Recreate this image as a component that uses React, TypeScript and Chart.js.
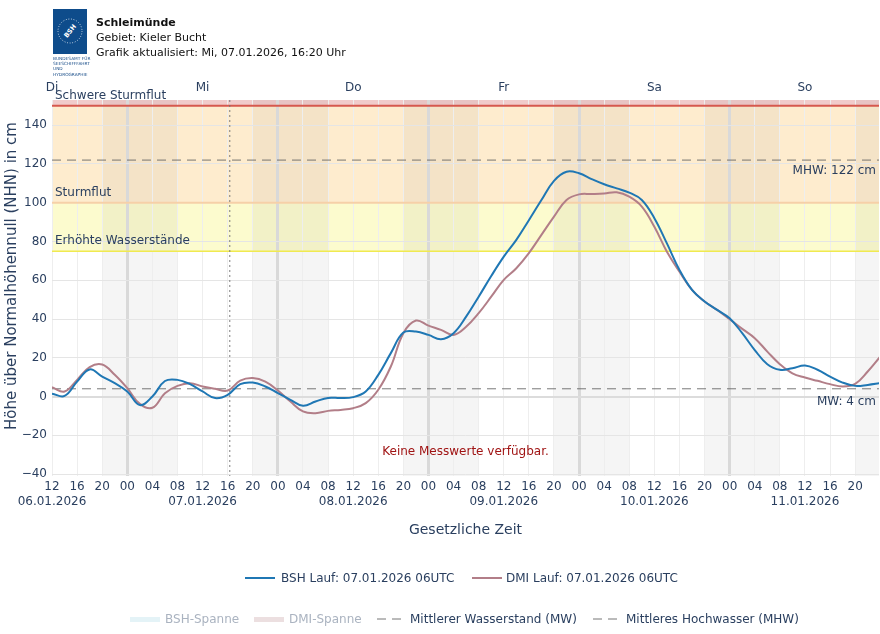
import React, { useEffect, useRef } from "react";
import { Chart, registerables } from "chart.js";

Chart.register(...registerables);

// hours since 06.01.2026 12:00 (local time)
const hours = [
  0, 2, 4, 6, 8, 10, 12, 14, 16, 18, 20, 22, 24, 26, 28, 30, 32, 34, 36, 38, 40, 42, 44, 46, 48,
  50, 52, 54, 56, 58, 60, 62, 64, 66, 68, 70, 72, 74, 76, 78, 80, 82, 84, 86, 88, 90, 92, 94, 96,
  98, 100, 102, 104, 106, 108, 110, 112, 114, 116, 118, 120, 122, 124, 126, 128, 130, 132,
];
const bshValues = [
  1.5, 0.3, 7.7, 14, 10.3, 6.9, 2.6, -4.4, 0, 8, 8.6, 6.4, 2.6, -0.8, 0.9, 6.4, 7.2, 5.2, 1.8, -1.7,
  -4.8, -2.6, -0.7, -0.8, -0.3, 2.6, 11.2, 22.4, 33, 33.5, 31.8, 29.6, 32.7, 41.2, 51.5, 62.2, 72.2,
  80.8, 91, 101.4, 111.3, 116, 115.2, 112.2, 109.5, 107.4, 105.2, 101.4, 92, 79, 65.3, 55, 49, 44.7,
  40.4, 32.7, 24, 16.7, 13.8, 14.6, 16, 13.8, 10.3, 7.2, 5.5, 6, 6.9,
];
const dmiValues = [
  4.8, 2.6, 8.6, 15.2, 16.5, 11.2, 4.3, -3.8, -5.8, 1.7, 5.5, 6.9, 5.2, 4, 3.1, 8.2, 9.5, 7.7, 3.1,
  -2.6, -7.7, -8.6, -7.4, -6.9, -6, -3.4, 3.5, 15.5, 32.7, 39.2, 36.6, 34.4, 31.8, 36, 43, 51.5, 60.2,
  66.2, 74, 83.4, 92.8, 101.4, 104.3, 104.5, 104.8, 105.4, 103.1, 98, 87.6, 74.7, 64.4, 55, 49, 44.7,
  39.9, 34.9, 30.1, 23.2, 16.7, 12, 9.8, 8.1, 6.4, 5.2, 6.5, 12.9, 20.6,
];
const yTicks = [-40, -20, 0, 20, 40, 60, 80, 100, 120, 140];
const xTickHours = [
  0, 4, 8, 12, 16, 20, 24, 28, 32, 36, 40, 44, 48, 52, 56, 60, 64, 68, 72, 76, 80, 84, 88, 92, 96,
  100, 104, 108, 112, 116, 120, 124, 128,
];
const dayLabels = ["Di", "Mi", "Do", "Fr", "Sa", "So"];
const dateLabels = ["06.01.2026", "07.01.2026", "08.01.2026", "09.01.2026", "10.01.2026", "11.01.2026"];
const nightStartHours = [8, 32, 56, 80, 104, 128];
const nightEndHours = [20, 44, 68, 92, 116, 140];
const nowHour = 28 + 20 / 60;
const mwLevel = 4;
const mhwLevel = 122;
const levelElevated = 75;
const levelStorm = 100;
const levelSevere = 150;
const noDataLevel = -28.5;

const FONT = '"DejaVu Sans", Verdana, sans-serif';
const TXT = "#2a3f5f";
const BSH_COLOR = "#1f77b4";
const DMI_COLOR = "#b27e88";
const Y_TITLE = "Höhe über Normalhöhennull (NHN) in cm";

const overlayPlugin = {
  id: "overlay",
  beforeDraw(chart: any) {
    const { ctx, chartArea: a, scales } = chart;
    const x = scales.x;
    const y = scales.y;
    ctx.save();
    ctx.beginPath();
    ctx.rect(a.left, a.top, a.right - a.left, a.bottom - a.top);
    ctx.clip();
    const band = (lo: number, hi: number, color: string) => {
      const yTop = hi === Infinity ? a.top : y.getPixelForValue(hi);
      const yBot = y.getPixelForValue(lo);
      ctx.fillStyle = color;
      ctx.fillRect(a.left, yTop, a.right - a.left, yBot - yTop);
    };
    band(levelElevated, levelStorm, "rgb(252,251,206)");
    band(levelStorm, levelSevere, "rgb(254,236,206)");
    band(levelSevere, Infinity, "rgb(241,203,203)");
    ctx.fillStyle = "rgba(120,120,120,0.075)";
    nightStartHours.forEach((s, i) => {
      const x0 = x.getPixelForValue(s);
      const x1 = x.getPixelForValue(nightEndHours[i]);
      ctx.fillRect(x0, a.top, x1 - x0, a.bottom - a.top);
    });
    ctx.restore();
  },
  beforeDatasetsDraw(chart: any) {
    const { ctx, chartArea: a, scales } = chart;
    const x = scales.x;
    const y = scales.y;
    ctx.save();
    ctx.beginPath();
    ctx.rect(a.left, a.top - 2, a.right - a.left, a.bottom - a.top + 2);
    ctx.clip();
    const hline = (v: number, color: string, w: number, dash: number[]) => {
      const py = y.getPixelForValue(v);
      ctx.beginPath();
      ctx.strokeStyle = color;
      ctx.lineWidth = w;
      ctx.setLineDash(dash);
      ctx.moveTo(a.left, py);
      ctx.lineTo(a.right, py);
      ctx.stroke();
    };
    hline(levelElevated, "rgb(240,234,80)", 1.5, []);
    hline(levelStorm, "rgb(246,208,168)", 2, []);
    hline(levelSevere, "rgb(214,88,78)", 2, []);
    hline(mhwLevel, "rgba(95,95,95,0.85)", 1, [9, 6]);
    hline(mwLevel, "rgba(95,95,95,0.85)", 1, [9, 6]);
    const nx = x.getPixelForValue(nowHour);
    ctx.beginPath();
    ctx.strokeStyle = "rgba(110,110,110,0.9)";
    ctx.lineWidth = 1;
    ctx.setLineDash([2, 3]);
    ctx.moveTo(nx, a.top);
    ctx.lineTo(nx, a.bottom);
    ctx.stroke();
    ctx.restore();
  },
  afterDatasetsDraw(chart: any) {
    const { ctx, chartArea: a, scales } = chart;
    const x = scales.x;
    const y = scales.y;
    ctx.save();
    ctx.font = `12px ${FONT}`;
    ctx.textBaseline = "middle";
    ctx.fillStyle = TXT;
    ctx.textAlign = "left";
    ctx.fillText("Schwere Sturmflut", a.left + 3, y.getPixelForValue(levelSevere) - 10);
    ctx.fillText("Sturmflut", a.left + 3, y.getPixelForValue(levelStorm) - 10);
    ctx.fillText("Erhöhte Wasserstände", a.left + 3, y.getPixelForValue(levelElevated) - 10);
    ctx.textAlign = "right";
    ctx.fillText(`MHW: ${mhwLevel} cm`, a.right - 3, y.getPixelForValue(mhwLevel) + 11);
    ctx.fillText(`MW: ${mwLevel} cm`, a.right - 3, y.getPixelForValue(mwLevel) + 13);
    ctx.textAlign = "center";
    dayLabels.forEach((d, i) => {
      ctx.fillText(d, x.getPixelForValue(i * 24), a.top - 12);
    });
    ctx.fillStyle = "rgb(160,20,20)";
    ctx.fillText("Keine Messwerte verfügbar.", (a.left + a.right) / 2, y.getPixelForValue(noDataLevel));
    // y axis title
    ctx.fillStyle = TXT;
    ctx.font = `15px ${FONT}`;
    ctx.translate(12, (a.top + a.bottom) / 2 - 12);
    ctx.rotate(-Math.PI / 2);
    ctx.fillText(Y_TITLE, 0, 0);
    ctx.restore();
  },
};

const legendRow1 = [
  { label: "BSH Lauf: 07.01.2026 06UTC", color: BSH_COLOR, lineLeft: 245, textLeft: 281 },
  { label: "DMI Lauf: 07.01.2026 06UTC", color: DMI_COLOR, lineLeft: 472, textLeft: 506 },
];

export default function App() {
  const ref = useRef<HTMLCanvasElement>(null);
  useEffect(() => {
    const bshData = hours.map((h, i) => ({ x: h, y: bshValues[i] }));
    const dmiData = hours.map((h, i) => ({ x: h, y: dmiValues[i] }));
    const chart = new Chart(ref.current as HTMLCanvasElement, {
      type: "line",
      data: {
        datasets: [
          {
            label: "BSH Lauf: 07.01.2026 06UTC",
            data: bshData,
            borderColor: BSH_COLOR,
            borderWidth: 2,
            pointRadius: 0,
            tension: 0.4,
            fill: false,
          },
          {
            label: "DMI Lauf: 07.01.2026 06UTC",
            data: dmiData,
            borderColor: DMI_COLOR,
            borderWidth: 2,
            pointRadius: 0,
            tension: 0.4,
            fill: false,
          },
        ],
      },
      options: {
        animation: false,
        responsive: false,
        maintainAspectRatio: false,
        layout: { padding: { left: 0, right: 1, top: 100, bottom: 94 } },
        plugins: { legend: { display: false }, tooltip: { enabled: false } },
        scales: {
          x: {
            type: "linear",
            min: 0,
            max: 131.8,
            border: { display: false },
            afterBuildTicks: (s: any) => {
              s.ticks = xTickHours.map((v) => ({ value: v }));
            },
            afterFit: (s: any) => {
              s.height = 64;
            },
            grid: {
              drawTicks: false,
              color: (c: any) => (((12 + c.tick.value) % 24 === 0) ? "#d9d9d9" : "#eeeeee"),
              lineWidth: (c: any) => (((12 + c.tick.value) % 24 === 0) ? 3 : 1),
            },
            ticks: {
              autoSkip: false,
              maxRotation: 0,
              padding: 4,
              color: TXT,
              font: { family: FONT, size: 12 },
              callback: (v: any) => {
                const hod = (12 + Number(v)) % 24;
                const s = String(hod).padStart(2, "0");
                if (hod === 12) return [s, dateLabels[Math.round(Number(v) / 24)]];
                return s;
              },
            },
            title: {
              display: true,
              text: "Gesetzliche Zeit",
              color: TXT,
              font: { family: FONT, size: 14 },
              padding: { top: 0, bottom: 1 },
            },
          },
          y: {
            type: "linear",
            min: -41,
            max: 153,
            border: { display: false },
            afterBuildTicks: (s: any) => {
              s.ticks = yTicks.map((v) => ({ value: v }));
            },
            afterFit: (s: any) => {
              s.width = 52;
            },
            grid: {
              drawTicks: false,
              color: (c: any) => (c.tick.value === 0 ? "#dcdcdc" : "#e5e5e5"),
              lineWidth: (c: any) => (c.tick.value === 0 ? 2 : 1),
            },
            ticks: {
              padding: 5,
              color: TXT,
              font: { family: FONT, size: 12 },
              callback: (v: any) => (Number(v) < 0 ? "\u2212" + Math.abs(Number(v)) : String(v)),
            },
          },
        },
      },
      plugins: [overlayPlugin],
    } as any);
    return () => chart.destroy();
  }, []);

  const txt: React.CSSProperties = {
    position: "absolute",
    fontFamily: FONT,
    fontSize: 12,
    lineHeight: "14px",
    whiteSpace: "nowrap",
    color: TXT,
  };

  return (
    <div
      style={{
        position: "absolute",
        left: 0,
        top: 0,
        width: 880,
        height: 634,
        background: "#fff",
        overflow: "hidden",
      }}
    >
      <canvas ref={ref} width={880} height={634} style={{ position: "absolute", left: 0, top: 0 }} />
      <svg width={40} height={72} style={{ position: "absolute", left: 52, top: 8 }}>
        <rect x={1} y={1} width={34} height={45} fill="#0e4c8b" />
        <circle cx={18} cy={23} r={12} fill="none" stroke="#fff" strokeWidth={0.9} strokeDasharray="0.8 1.8" />
        <text
          transform="translate(18,23) rotate(-50)"
          fill="#fff"
          fontSize={6.5}
          fontWeight="bold"
          fontFamily={FONT}
          textAnchor="middle"
          dy={2.3}
        >
          BSH
        </text>
        <text x={1} y={52} fontSize={4.3} fill="#1b4f8a" fontFamily={FONT}>BUNDESAMT FÜR</text>
        <text x={1} y={57} fontSize={4.3} fill="#1b4f8a" fontFamily={FONT}>SEESCHIFFFAHRT</text>
        <text x={1} y={62} fontSize={4.3} fill="#1b4f8a" fontFamily={FONT}>UND</text>
        <text x={1} y={67.5} fontSize={4.3} fill="#1b4f8a" fontFamily={FONT}>HYDROGRAPHIE</text>
      </svg>
      <div style={{ ...txt, left: 96, top: 15, fontSize: 11, lineHeight: "15px", color: "#111", fontWeight: "bold" }}>
        Schleimünde
      </div>
      <div style={{ ...txt, left: 96, top: 30, fontSize: 11, lineHeight: "15px", color: "#111" }}>
        Gebiet: Kieler Bucht
      </div>
      <div style={{ ...txt, left: 96, top: 45, fontSize: 11, lineHeight: "15px", color: "#111" }}>
        Grafik aktualisiert: Mi, 07.01.2026, 16:20 Uhr
      </div>

      {legendRow1.map((it) => (
        <React.Fragment key={it.label}>
          <div style={{ position: "absolute", left: it.lineLeft, top: 577, width: 30, height: 2, background: it.color }} />
          <div style={{ ...txt, left: it.textLeft, top: 571 }}>{it.label}</div>
        </React.Fragment>
      ))}

      <div style={{ position: "absolute", left: 130, top: 617, width: 30, height: 5, background: "#e4f3f7" }} />
      <div style={{ ...txt, left: 165, top: 612, color: "#aab3c0" }}>BSH-Spanne</div>
      <div style={{ position: "absolute", left: 254, top: 617, width: 30, height: 5, background: "#ecdfe0" }} />
      <div style={{ ...txt, left: 289, top: 612, color: "#aab3c0" }}>DMI-Spanne</div>
      <svg width={30} height={4} style={{ position: "absolute", left: 375, top: 617 }}>
        <line x1={0} y1={2} x2={30} y2={2} stroke="#777" strokeWidth={1} strokeDasharray="9 6" strokeDashoffset={-2} />
      </svg>
      <div style={{ ...txt, left: 410, top: 612 }}>Mittlerer Wasserstand (MW)</div>
      <svg width={30} height={4} style={{ position: "absolute", left: 591, top: 617 }}>
        <line x1={0} y1={2} x2={30} y2={2} stroke="#777" strokeWidth={1} strokeDasharray="9 6" strokeDashoffset={-2} />
      </svg>
      <div style={{ ...txt, left: 626, top: 612 }}>Mittleres Hochwasser (MHW)</div>
    </div>
  );
}
